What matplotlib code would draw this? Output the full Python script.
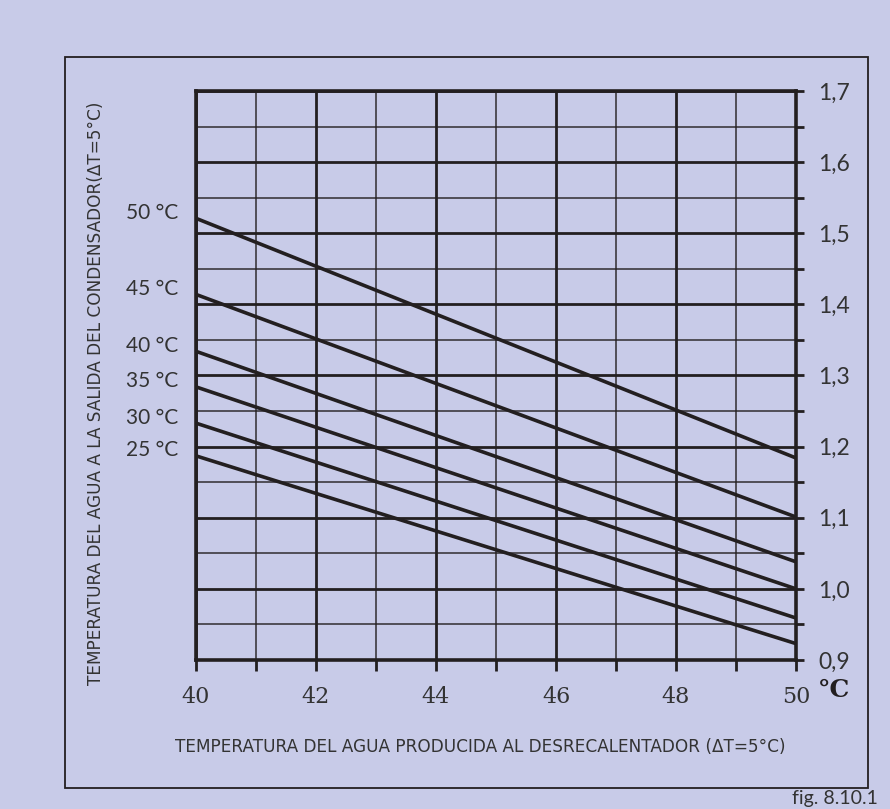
import matplotlib
matplotlib.use('Agg')
import matplotlib.pyplot as plt
from matplotlib.patches import Rectangle
from matplotlib.ticker import MultipleLocator, FuncFormatter

# valori (estremi delle rette a 40 e 50 °C)
x_ends = [40, 50]
labels = ['50 °C', '45 °C', '40 °C', '35 °C', '30 °C', '25 °C']
y_start = [1.521, 1.414, 1.334, 1.284, 1.233, 1.187]
y_end = [1.184, 1.101, 1.038, 1.000, 0.959, 0.923]

bg = '#c8cbe8'
ink = '#231f20'

fig = plt.figure(figsize=(8.9, 8.09), dpi=100, facecolor=bg)
ax = fig.add_axes([0.2202, 0.1842, 0.6742, 0.7033])
ax.set_facecolor(bg)

# cornice esterna
fig.patches.append(Rectangle((65 / 890, 1 - 788 / 809), (868 - 65) / 890, (788 - 57) / 809,
                             transform=fig.transFigure, fill=False, edgecolor=ink, lw=1.3))

ax.set_xlim(40, 50)
ax.set_ylim(0.9, 1.7)

ax.xaxis.set_major_locator(MultipleLocator(2))
ax.xaxis.set_minor_locator(MultipleLocator(1))
ax.yaxis.set_major_locator(MultipleLocator(0.1))
ax.yaxis.set_minor_locator(MultipleLocator(0.05))

ax.grid(which='major', color=ink, lw=2.0)
ax.grid(which='minor', color=ink, lw=1.2, alpha=0.85)

ax.yaxis.tick_right()
ax.tick_params(axis='y', which='both', direction='out', length=6, width=2, color=ink,
               labelsize=16.5, labelcolor='#333333', pad=10)
ax.tick_params(axis='x', which='both', direction='out', length=8, width=2, color=ink,
               labelsize=16, labelcolor='#333333', pad=11)
ax.yaxis.set_major_formatter(FuncFormatter(lambda v, p: f'{v:.1f}'.replace('.', ',')))
for t in ax.get_xticklabels():
    t.set_family('DejaVu Serif')
for t in ax.get_yticklabels():
    t.set_family('Lato')

for s in ax.spines.values():
    s.set_color(ink)
    s.set_linewidth(2.6)

for lab, a, b in zip(labels, y_start, y_end):
    ax.plot(x_ends, [a, b], color=ink, lw=2.6, solid_capstyle='butt')
    ax.annotate(lab, (40, a), xytext=(-13, 4), textcoords='offset points',
                ha='right', va='center', fontsize=15, color='#333333', family='Lato')

fig.text(0.937, 1 - 690 / 809, '°C', fontsize=18, fontweight='bold', family='DejaVu Serif',
         color=ink, ha='center', va='center')

fig.text(480 / 890, 1 - 747 / 809, 'TEMPERATURA DEL AGUA PRODUCIDA AL DESRECALENTADOR (ΔT=5°C)',
         fontsize=12.2, color='#333333', ha='center', va='center', family='DejaVu Sans')
fig.text(96 / 890, 1 - 393 / 809, 'TEMPERATURA DEL AGUA A LA SALIDA DEL CONDENSADOR(ΔT=5°C)',
         fontsize=12.2, color='#333333', ha='center', va='center', rotation=90, family='DejaVu Sans')

fig.text(878 / 890, 1 - 807 / 809, 'fig. 8.10.1', fontsize=14, color='#333333',
         ha='right', va='bottom', family='Lato')

fig.savefig('out.png', dpi=100, facecolor=bg)
